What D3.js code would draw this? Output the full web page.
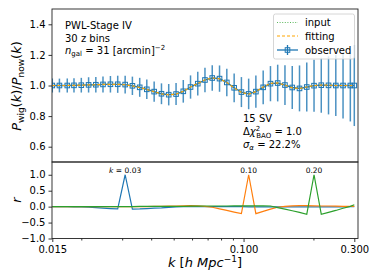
<!DOCTYPE html>
<html><head><meta charset="utf-8">
<script src="https://cdn.jsdelivr.net/npm/d3@7"></script>
<style>body{margin:0;background:#fff}svg{display:block;font-family:"DejaVu Sans",sans-serif}</style>
</head><body>
<script>
const kValues = [0.0150,0.0161,0.0174,0.0186,0.0200,0.0215,0.0231,0.0248,0.0267,0.0287,0.0309,0.0332,0.0357,0.0383,0.0412,0.0443,0.0476,0.0512,0.0550,0.0591,0.0635,0.0682,0.0733,0.0788,0.0847,0.0911,0.0979,0.1052,0.1130,0.1215,0.1306,0.1403,0.1508,0.1621,0.1742,0.1872,0.2012,0.2162,0.2323,0.2497,0.2683,0.2884,0.3000];
const observed = [1.000,1.000,1.000,1.001,1.002,1.004,1.005,1.007,1.008,1.008,1.006,0.998,0.988,0.975,0.960,0.946,0.940,0.944,0.962,0.990,1.012,1.036,1.049,1.045,1.020,0.985,0.957,0.945,0.960,0.988,1.012,1.016,1.003,0.987,0.981,0.990,0.999,1.002,1.001,1.000,1.000,1.000,1.000];
const fitting  = [1.000,1.000,1.000,1.001,1.002,1.004,1.005,1.007,1.008,1.008,1.005,0.997,0.987,0.974,0.959,0.945,0.939,0.944,0.962,0.990,1.013,1.037,1.049,1.044,1.019,0.984,0.955,0.944,0.960,0.990,1.014,1.017,1.002,0.985,0.980,0.990,1.000,1.003,1.002,1.000,1.000,1.000,1.000];
const inputVals= [1.000,1.000,1.000,1.001,1.002,1.004,1.005,1.007,1.008,1.008,1.006,0.998,0.988,0.975,0.960,0.946,0.940,0.944,0.962,0.990,1.012,1.036,1.049,1.045,1.020,0.985,0.957,0.945,0.961,0.989,1.013,1.016,1.003,0.986,0.981,0.990,0.999,1.002,1.001,1.000,1.000,1.000,1.000];
const sigma = [0.045,0.045,0.046,0.047,0.048,0.050,0.050,0.052,0.054,0.056,0.058,0.060,0.062,0.064,0.066,0.068,0.070,0.072,0.074,0.076,0.078,0.080,0.083,0.086,0.090,0.094,0.098,0.100,0.105,0.110,0.115,0.120,0.130,0.140,0.150,0.160,0.170,0.180,0.190,0.200,0.215,0.235,0.265];
const rK003 = [0.00,0.00,0.00,-0.005,-0.01,-0.015,-0.03,-0.045,-0.06,-0.07,1.00,-0.075,-0.07,-0.06,-0.05,-0.04,-0.025,-0.01,0.00,0.00,0.00,0.00,0.00,0.00,0.00,0.00,0.00,-0.005,-0.01,-0.01,-0.01,-0.01,-0.01,-0.01,-0.01,-0.01,-0.01,-0.01,-0.01,-0.01,-0.005,0.00,0.00];
const rK010 = [0.00,0.00,0.00,0.00,0.00,0.00,0.00,0.00,0.00,0.00,0.00,0.00,0.00,0.00,0.005,0.01,0.015,0.02,0.025,0.03,0.025,0.01,-0.02,-0.07,-0.12,-0.17,-0.22,1.00,-0.22,-0.15,-0.08,-0.02,0.01,0.025,0.03,0.03,0.025,0.02,0.02,0.015,0.01,0.01,0.01];
const rK020 = [0.00,0.00,0.00,0.00,0.00,0.00,0.00,0.00,0.00,0.00,0.00,0.00,0.005,0.005,0.01,0.01,0.01,0.01,0.01,0.015,0.015,0.02,0.02,0.02,0.02,0.025,0.025,0.025,0.025,0.025,0.02,-0.03,-0.08,-0.13,-0.18,-0.24,1.00,-0.24,-0.18,-0.12,-0.05,0.01,0.06];
const peakLabels = [{k:0.0309, text:"k", rest:" = 0.03"},{k:0.1052,text:"",rest:"0.10"},{k:0.2012,text:"",rest:"0.20"}];
const topYTicks = [0.6,0.8,1.0,1.2,1.4];
const botYTicks = [-1.0,-0.5,0.0,0.5,1.0];
const xMajor = [0.015,0.1,0.3];
const xMinor = [0.02,0.03,0.04,0.05,0.06,0.07,0.08,0.09,0.2];

const W=374,H=280;
const svg=d3.select("body").append("svg").attr("width",W).attr("height",H);
const L=52,R=358,T=9,MID=162,B=238.5;
const x=d3.scaleLog().domain([0.015*Math.pow(10,-0.3/232.4),0.3*Math.pow(10,3.7/232.4)]).range([L,R]);
const yT=d3.scaleLinear().domain([0.5,1.5]).range([MID,T]);
const yB=d3.scaleLinear().domain([-1,1.4]).range([B,MID]);
const blue="#1f77b4",orange="#ff7f0e",green="#2ca02c";

// axes
const fmt=d3.format(".1f");
const gTopY=svg.append("g").attr("transform",`translate(${L},0)`).call(d3.axisLeft(yT).tickValues(topYTicks).tickFormat(fmt).tickSize(3.5).tickPadding(3));
const gBotY=svg.append("g").attr("transform",`translate(${L},0)`).call(d3.axisLeft(yB).tickValues(botYTicks).tickFormat(d=>d<0?"\u2212"+fmt(-d):fmt(d)).tickSize(3.5).tickPadding(3));
const gX=svg.append("g").attr("transform",`translate(0,${B})`).call(d3.axisBottom(x).tickValues(xMajor).tickFormat(d3.format(".3f")).tickSize(3.5).tickPadding(4));
const gXm=svg.append("g").attr("transform",`translate(0,${B})`).call(d3.axisBottom(x).tickValues(xMinor).tickFormat("").tickSize(2));
[gTopY,gBotY,gX,gXm].forEach(g=>{g.select(".domain").remove();g.selectAll("text").attr("font-size",10).attr("fill","#000").attr("font-family","DejaVu Sans");g.selectAll("line").attr("stroke","#000").attr("stroke-width",0.8);});

// top panel data
const line=(arr,ys)=>d3.line().x((d,i)=>x(kValues[i])).y(d=>ys(d))(arr);
svg.append("clipPath").attr("id","ct").append("rect").attr("x",L).attr("y",T).attr("width",R-L).attr("height",MID-T);
const gT=svg.append("g").attr("clip-path","url(#ct)");
gT.append("path").attr("d",line(inputVals,yT)).attr("fill","none").attr("stroke","#5cb85c").attr("stroke-width",1.2).attr("stroke-dasharray","1,1.6");
gT.selectAll("line.eb").data(observed).join("line").attr("class","eb")
  .attr("x1",(d,i)=>x(kValues[i])).attr("x2",(d,i)=>x(kValues[i]))
  .attr("y1",(d,i)=>yT(d-sigma[i])).attr("y2",(d,i)=>yT(d+sigma[i]))
  .attr("stroke",blue).attr("stroke-width",1.5).attr("opacity",0.8);
gT.append("path").attr("d",line(observed,yT)).attr("fill","none").attr("stroke",blue).attr("stroke-width",1.3);
gT.selectAll("rect.mk").data(observed).join("rect").attr("class","mk")
  .attr("x",(d,i)=>x(kValues[i])-2.3).attr("y",d=>yT(d)-2.3).attr("width",4.6).attr("height",4.6)
  .attr("fill","none").attr("stroke",blue).attr("stroke-width",1);
gT.append("path").attr("d",line(fitting,yT)).attr("fill","none").attr("stroke","#ffa500").attr("stroke-width",1.2).attr("stroke-dasharray","3,2");

// bottom panel
svg.append("clipPath").attr("id","cb").append("rect").attr("x",L).attr("y",MID).attr("width",R-L).attr("height",B-MID);
const gB=svg.append("g").attr("clip-path","url(#cb)");
[[rK003,blue],[rK010,orange],[rK020,green]].forEach(([arr,c])=>{
  gB.append("path").attr("d",line(arr,yB)).attr("fill","none").attr("stroke",c).attr("stroke-width",1.2);
});
peakLabels.forEach(p=>{
  const t=svg.append("text").attr("x",x(p.k)).attr("y",173).attr("text-anchor","middle").attr("font-size",7.5);
  if(p.text) t.append("tspan").attr("font-style","italic").text(p.text);
  t.append("tspan").text(p.rest);
});

// frames
svg.append("rect").attr("x",L).attr("y",T).attr("width",R-L).attr("height",MID-T).attr("fill","none").attr("stroke","#222").attr("stroke-width",0.9);
svg.append("rect").attr("x",L).attr("y",MID).attr("width",R-L).attr("height",B-MID).attr("fill","none").attr("stroke","#222").attr("stroke-width",0.9);

// texts top-left
const fs=10;
svg.append("text").attr("x",65).attr("y",29).attr("font-size",fs).text("PWL-Stage IV");
svg.append("text").attr("x",65).attr("y",41.5).attr("font-size",fs).text("30 z bins");
const tn=svg.append("text").attr("x",65).attr("y",54).attr("font-size",fs);
tn.append("tspan").attr("font-style","italic").text("n");
tn.append("tspan").attr("font-size",7).attr("dy",2).text("gal");
tn.append("tspan").attr("dy",-2).text(" = 31 [arcmin]");
tn.append("tspan").attr("font-size",7).attr("dy",-4).text("\u22122");

// annotations
svg.append("text").attr("x",243).attr("y",121.5).attr("font-size",fs).text("15 SV");
const tc=svg.append("text").attr("x",243).attr("y",134.5).attr("font-size",fs);
tc.append("tspan").text("\u0394");
tc.append("tspan").attr("font-style","italic").text("\u03c7");
tc.append("tspan").attr("font-size",7).attr("dy",-4).text("2");
tc.append("tspan").attr("font-size",7).attr("dx",-4).attr("dy",7).text("BAO");
tc.append("tspan").attr("dy",-3).text(" = 1.0");
const ts=svg.append("text").attr("x",243).attr("y",147.5).attr("font-size",fs);
ts.append("tspan").attr("font-style","italic").text("\u03c3");
ts.append("tspan").attr("font-style","italic").attr("font-size",7).attr("dy",2).text("\u03b1");
ts.append("tspan").attr("dy",-2).text(" = 22.2%");

// legend
const lg=svg.append("g");
lg.append("rect").attr("x",273.5).attr("y",14).attr("width",81).attr("height",45).attr("rx",2).attr("fill","#fff").attr("fill-opacity",0.8).attr("stroke","#ccc").attr("stroke-width",0.8);
const lx1=277,lx2=298;
lg.append("line").attr("x1",lx1).attr("x2",lx2).attr("y1",22.5).attr("y2",22.5).attr("stroke","#5cb85c").attr("stroke-width",1.2).attr("stroke-dasharray","1,1.6");
lg.append("line").attr("x1",lx1).attr("x2",lx2).attr("y1",36).attr("y2",36).attr("stroke","#ffa500").attr("stroke-width",1.2).attr("stroke-dasharray","3,2");
lg.append("line").attr("x1",lx1).attr("x2",lx2).attr("y1",50).attr("y2",50).attr("stroke",blue).attr("stroke-width",1.3);
lg.append("line").attr("x1",(lx1+lx2)/2).attr("x2",(lx1+lx2)/2).attr("y1",45).attr("y2",55).attr("stroke",blue).attr("stroke-width",1.3);
lg.append("rect").attr("x",(lx1+lx2)/2-2.3).attr("y",47.7).attr("width",4.6).attr("height",4.6).attr("fill","none").attr("stroke",blue);
[["input",22.5],["fitting",36],["observed",50]].forEach(([t,y])=>lg.append("text").attr("x",305).attr("y",y+3.5).attr("font-size",fs).text(t));

// axis labels
const yl=svg.append("text").attr("transform","translate(21,86) rotate(-90)").attr("text-anchor","middle").attr("font-size",13);
yl.append("tspan").attr("font-style","italic").text("P");
yl.append("tspan").attr("font-size",9).attr("dy",2.5).text("wig");
yl.append("tspan").attr("dy",-2.5).text("(");
yl.append("tspan").attr("font-style","italic").text("k");
yl.append("tspan").text(")/");
yl.append("tspan").attr("font-style","italic").text("P");
yl.append("tspan").attr("font-size",9).attr("dy",2.5).text("now");
yl.append("tspan").attr("dy",-2.5).text("(");
yl.append("tspan").attr("font-style","italic").text("k");
yl.append("tspan").text(")");
svg.append("text").attr("transform","translate(21,200) rotate(-90)").attr("text-anchor","middle").attr("font-size",13).attr("font-style","italic").text("r");
const xl=svg.append("text").attr("x",205).attr("y",267).attr("text-anchor","middle").attr("font-size",13);
xl.append("tspan").attr("font-style","italic").text("k");
xl.append("tspan").text(" [");
xl.append("tspan").attr("font-style","italic").text("h Mpc");
xl.append("tspan").attr("font-size",9).attr("dy",-5).text("\u22121");
xl.append("tspan").attr("dy",5).text("]");
</script>
</body></html>
